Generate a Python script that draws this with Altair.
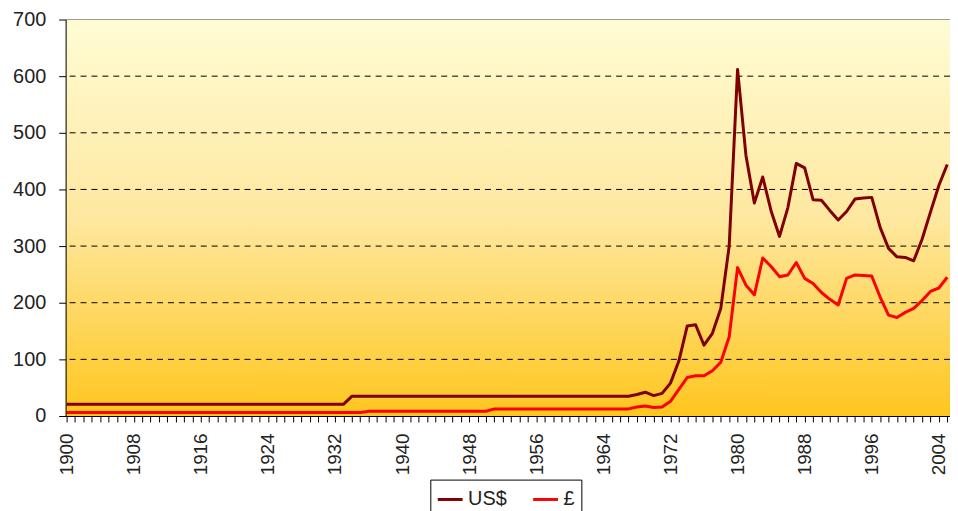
import altair as alt
import pandas as pd

# ---------------- data ----------------
years = list(range(1900, 2006))

usd = [
    20.67, 20.67, 20.67, 20.67, 20.67, 20.67, 20.67, 20.67, 20.67, 20.67,   # 1900-1909
    20.67, 20.67, 20.67, 20.67, 20.67, 20.67, 20.67, 20.67, 20.67, 20.67,   # 1910-1919
    20.67, 20.67, 20.67, 20.67, 20.67, 20.67, 20.67, 20.67, 20.67, 20.67,   # 1920-1929
    20.67, 20.67, 20.67, 20.67, 34.7, 35, 35, 35, 35, 35,                   # 1930-1939
    35, 35, 35, 35, 35, 35, 35, 35, 35, 35,                                 # 1940-1949
    35, 35, 35, 35, 35, 35, 35, 35, 35, 35,                                 # 1950-1959
    35, 35, 35, 35, 35, 35, 35, 35, 38, 42,                                 # 1960-1969
    36, 40, 58, 97, 159, 161, 125, 146, 190, 300,                           # 1970-1979
    612, 460, 376, 422, 362, 317, 368, 446, 438, 382,                       # 1980-1989
    381, 363, 346, 361, 383, 385, 386, 333, 296, 281,                       # 1990-1999
    280, 274, 312, 360, 407, 444,                                           # 2000-2005
]

gbp = [
    6, 6, 6, 6, 6, 6, 6, 6, 6, 6,                                           # 1900-1909
    6, 6, 6, 6, 6, 6, 6, 6, 6, 6,                                           # 1910-1919
    6, 6, 6, 6, 6, 6, 6, 6, 6, 6,                                           # 1920-1929
    6, 6, 6, 6, 6, 6, 8.5, 8.5, 8.5, 8.5,                                   # 1930-1939
    8.5, 8.5, 8.5, 8.5, 8.5, 8.5, 8.5, 8.5, 8.5, 8.5,                       # 1940-1949
    8.5, 12.5, 12.5, 12.5, 12.5, 12.5, 12.5, 12.5, 12.5, 12.5,              # 1950-1959
    12.5, 12.5, 12.5, 12.5, 12.5, 12.5, 12.5, 12.5, 16, 17.5,               # 1960-1969
    15, 16, 26, 47, 68, 71, 71, 80, 95, 140,                                # 1970-1979
    262, 231, 214, 279, 264, 246, 249, 271, 243, 234,                       # 1980-1989
    218, 206, 196, 243, 249, 248, 247, 210, 178, 174,                       # 1990-1999
    183, 190, 204, 220, 226, 245,                                           # 2000-2005
]

series_names = ["US$", "£"]
series_colors = ["#800000", "#FF0000"]
y_ticks = [0, 100, 200, 300, 400, 500, 600, 700]
y_grid = [100, 200, 300, 400, 500, 600]

rows = []
for name, vals in zip(series_names, [usd, gbp]):
    for yr, v in zip(years, vals):
        rows.append({"year": yr, "series": name, "value": v})
df = pd.DataFrame(rows)

# ---------------- layout ----------------
W, H = 890, 399
FONT = "Liberation Sans"
LABEL_COLOR = "#222222"

xscale = alt.Scale(domain=[1899.88, 2005.33], nice=False, zero=False)
yscale = alt.Scale(domain=[0, 700], nice=False, zero=True)

yaxis = alt.Axis(
    values=y_ticks,
    tickSize=7,
    tickColor="black",
    domainColor="black",
    labelColor=LABEL_COLOR,
    labelFont=FONT,
    labelFontSize=20,
    labelPadding=13,
    title=None,
    grid=False,
    zindex=1,
)

grad = {
    "gradient": "linear",
    "x1": 0, "y1": 0, "x2": 0, "y2": 1,
    "stops": [
        {"offset": 0.0, "color": "#FFFCD4"},
        {"offset": 0.5, "color": "#FEE8A0"},
        {"offset": 1.0, "color": "#FFC61E"},
    ],
}

bg = alt.Chart(pd.DataFrame({"a": [0]})).mark_rect(fill=grad, strokeWidth=0).encode(
    x=alt.value(0), x2=alt.value(W), y=alt.value(0), y2=alt.value(H)
)

top_border = alt.Chart(pd.DataFrame({"a": [0]})).mark_rule(
    color="#9a9a9a", strokeWidth=1
).encode(x=alt.value(0), x2=alt.value(W), y=alt.value(0))

grid = alt.Chart(pd.DataFrame({"value": y_grid})).mark_rule(
    color="black", strokeWidth=1, strokeDash=[6, 5]
).encode(y=alt.Y("value:Q", scale=yscale, axis=yaxis))

lines = alt.Chart(df).mark_line(strokeWidth=3, strokeJoin="round").encode(
    x=alt.X(
        "year:Q",
        scale=xscale,
        axis=alt.Axis(
            values=years,
            labelExpr="datum.value % 8 == 4 ? '' + datum.value : ''",
            labelAngle=270,
            labelOverlap=False,
            labelFlush=False,
            labelBound=False,
            tickSize=6,
            tickColor="black",
            domainColor="black",
            labelColor=LABEL_COLOR,
            labelFont=FONT,
            labelFontSize=19,
            labelPadding=11,
            title=None,
            grid=False,
            zindex=1,
        ),
    ),
    y=alt.Y("value:Q", scale=yscale, axis=yaxis),
    color=alt.Color(
        "series:N",
        scale=alt.Scale(domain=series_names, range=series_colors),
        sort=series_names,
        legend=alt.Legend(
            orient="none",
            legendX=367,
            legendY=463,
            direction="horizontal",
            title=None,
            symbolType="stroke",
            symbolSize=625,
            symbolStrokeWidth=3,
            labelFont=FONT,
            labelFontSize=20,
            labelColor=LABEL_COLOR,
            labelOffset=4,
            columnPadding=20,
            strokeColor="black",
            fillColor="white",
            padding=6,
        ),
    ),
    order=alt.Order("year:Q"),
)

chart = alt.layer(bg, grid, top_border, lines).properties(
    width=W,
    height=H,
    autosize=alt.AutoSizeParams(type="none"),
    padding={"left": 58, "top": 10, "right": 0, "bottom": 94},
).configure_view(stroke=None).configure(background="white")

chart.save("out.html", embed_options={"renderer": "svg", "actions": False})
